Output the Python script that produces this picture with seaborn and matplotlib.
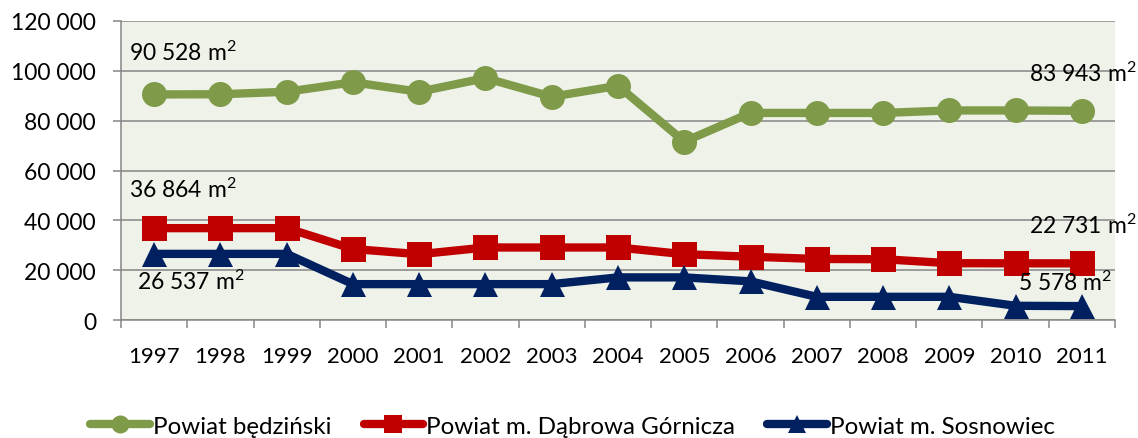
import matplotlib
matplotlib.use("Agg")
import matplotlib.pyplot as plt
import numpy as np
import pandas as pd
import seaborn as sns
from matplotlib.ticker import FuncFormatter

# values (m2)
years = ["1997", "1998", "1999", "2000", "2001", "2002", "2003", "2004",
         "2005", "2006", "2007", "2008", "2009", "2010", "2011"]
bedzinski = [90528, 90600, 91600, 95400, 91600, 97100, 89600, 94000,
             71600, 83100, 83100, 83100, 84100, 84100, 83943]
dabrowa = [36864, 36864, 36864, 28500, 26400, 29100, 29100, 29100,
           26400, 25400, 24500, 24400, 22800, 22750, 22731]
sosnowiec = [26537, 26537, 26537, 14400, 14400, 14400, 14400, 17100,
             17100, 15500, 9300, 9300, 9300, 5700, 5578]
names = ["Powiat będziński", "Powiat m. Dąbrowa Górnicza", "Powiat m. Sosnowiec"]
yticks = [0, 20000, 40000, 60000, 80000, 100000, 120000]

sns.set_theme(style="white")
plt.rcParams["font.family"] = ["Lato", "DejaVu Sans"]
plt.rcParams["text.color"] = "black"
plt.rcParams["mathtext.fontset"] = "custom"
plt.rcParams["mathtext.rm"] = "Lato"
plt.rcParams["mathtext.it"] = "Lato"
plt.rcParams["mathtext.default"] = "regular"

GRID = "#868686"
colors = ["#7F9A48", "#C00000", "#002060"]
markers = ["o", "s", "^"]

fig = plt.figure(figsize=(11.38, 4.39), dpi=100)
ax = fig.add_axes([121 / 1138, 1 - 321 / 439, 994 / 1138, 299 / 439])
ax.set_facecolor("#EEF2E9")

x = np.arange(len(years))
for name, vals, color, marker in zip(names, [bedzinski, dabrowa, sosnowiec], colors, markers):
    df = pd.DataFrame({"x": x, "y": vals})
    sns.lineplot(data=df, x="x", y="y", ax=ax, color=color, marker=marker,
                 markersize=18, markeredgewidth=0, linewidth=6, legend=False)

ax.set_xlim(-0.5, len(years) - 0.5)
ax.set_ylim(0, 120000)
ax.set_yticks(yticks)
ax.yaxis.set_major_formatter(FuncFormatter(lambda v, _: f"{int(v):,}".replace(",", " ")))
ax.set_xticks(x)
ax.set_xticklabels(years)
ax.set_xticks(np.arange(len(years) + 1) - 0.5, minor=True)
ax.set_xlabel("")
ax.set_ylabel("")

ax.yaxis.grid(True, color=GRID, linewidth=1.1)
ax.set_axisbelow(True)
for side in ["top", "right"]:
    ax.spines[side].set_visible(False)
for side in ["left", "bottom"]:
    ax.spines[side].set_color(GRID)
    ax.spines[side].set_linewidth(1.1)

ax.tick_params(axis="y", left=True, length=6, width=1.1, color=GRID, pad=12,
               labelsize=16.5, labelcolor="black")
ax.tick_params(axis="x", which="major", bottom=True, length=0, pad=19,
               labelsize=16, labelcolor="black")
ax.tick_params(axis="x", which="minor", bottom=True, length=6, width=1.1, color=GRID)

# first / last value labels
fmt = lambda v: f"{v:,}".replace(",", " ") + r" m$^2$"
labels = [
    (0, bedzinski[0], -25, 43, "left"),
    (0, dabrowa[0], -25, 39, "left"),
    (0, sosnowiec[0], -17, -27, "left"),
    (14, bedzinski[-1], 55, 38, "right"),
    (14, dabrowa[-1], 55, 39, "right"),
    (14, sosnowiec[-1], 30, 24, "right"),
]
for xi, v, dx, dy, ha in labels:
    ax.annotate(fmt(v), xy=(xi, v), xytext=(dx, dy), textcoords="offset pixels",
                ha=ha, va="center", fontsize=16.5, color="black")

handles = ax.get_lines()[:3]
fig.legend(handles, names, loc="center", bbox_to_anchor=(0.503, 0.027), ncol=3,
           frameon=False, fontsize=17.4, handlelength=2.45, handletextpad=0.12,
           columnspacing=1.35, markerscale=0.72)

fig.savefig("out.png", dpi=100)
